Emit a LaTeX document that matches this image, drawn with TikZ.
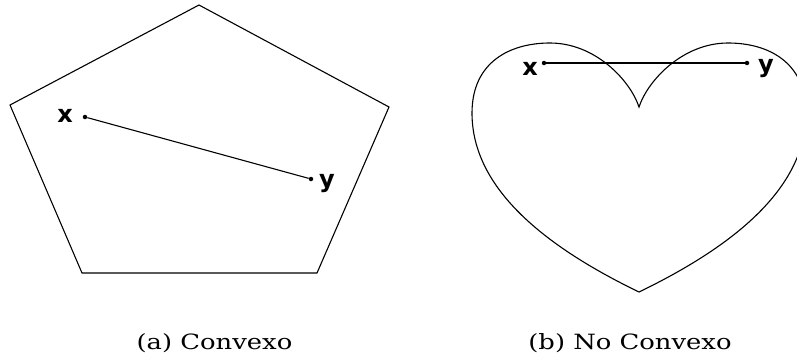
\documentclass[tikz,border=0pt]{standalone}
\usepackage{fontspec}
\newfontfamily\lblfont{DejaVu Sans}
\newfontfamily\capfont{DejaVu Serif}
\begin{document}
\begin{tikzpicture}[x=1pt,y=-1pt,
  shape line/.style={line width=1.1pt, black},
  seg/.style={line width=1.1pt, black},
  pt/.style={circle, fill=black, inner sep=0pt, minimum size=4.5pt},
  lbl/.style={font=\lblfont\bfseries\fontsize{24}{24}\selectfont, anchor=base, inner sep=0pt},
  captxt/.style={font=\capfont\fontsize{21}{21}\selectfont, anchor=base, inner sep=0pt, xscale=1.23, transform shape}]
\useasboundingbox (0,0) rectangle (797,354);
\begin{scope}
\clip (0,0) rectangle (797,354);
% Pentagon
\coordinate (p1) at (199,5);
\coordinate (p2) at (389,107);
\coordinate (p3) at (317,273);
\coordinate (p4) at (82,273);
\coordinate (p5) at (10,105);
\draw[shape line] (p1) -- (p2) -- (p3) -- (p4) -- (p5) -- cycle;
\node[pt] (ax) at (85,117) {};
\node[pt] (ay) at (311,179) {};
\draw[seg] (ax) -- (ay);
\node[lbl] (axl) at (65,122) {x};
\node[lbl] (ayl) at (327,187) {y};
% Heart
\coordinate (hb) at (639,292);
\coordinate (hl) at (472,113);
\coordinate (htl) at (550,43);
\coordinate (hc) at (639,107);
\coordinate (htr) at (728,43);
\coordinate (hr) at (806,113);
\draw[shape line] (hb) .. controls (548,248) and (472,190) .. (hl)
  .. controls (472,62) and (510,43) .. (htl)
  .. controls (595,43) and (630,80) .. (hc)
  .. controls (648,80) and (683,43) .. (htr)
  .. controls (768,43) and (806,62) .. (hr)
  .. controls (806,190) and (730,248) .. (hb) -- cycle;
\node[pt] (bx) at (544,63) {};
\node[pt] (by) at (747,63) {};
\draw[seg] (bx) -- (by);
\node[lbl] (bxl) at (530,75) {x};
\node[lbl] (byl) at (766,72) {y};
% Captions
\node[captxt] (ca) at (214.5,349.5) {(a) Convexo};
\node[captxt] (cb) at (630,349.5) {(b) No Convexo};
\end{scope}
\end{tikzpicture}
\end{document}
